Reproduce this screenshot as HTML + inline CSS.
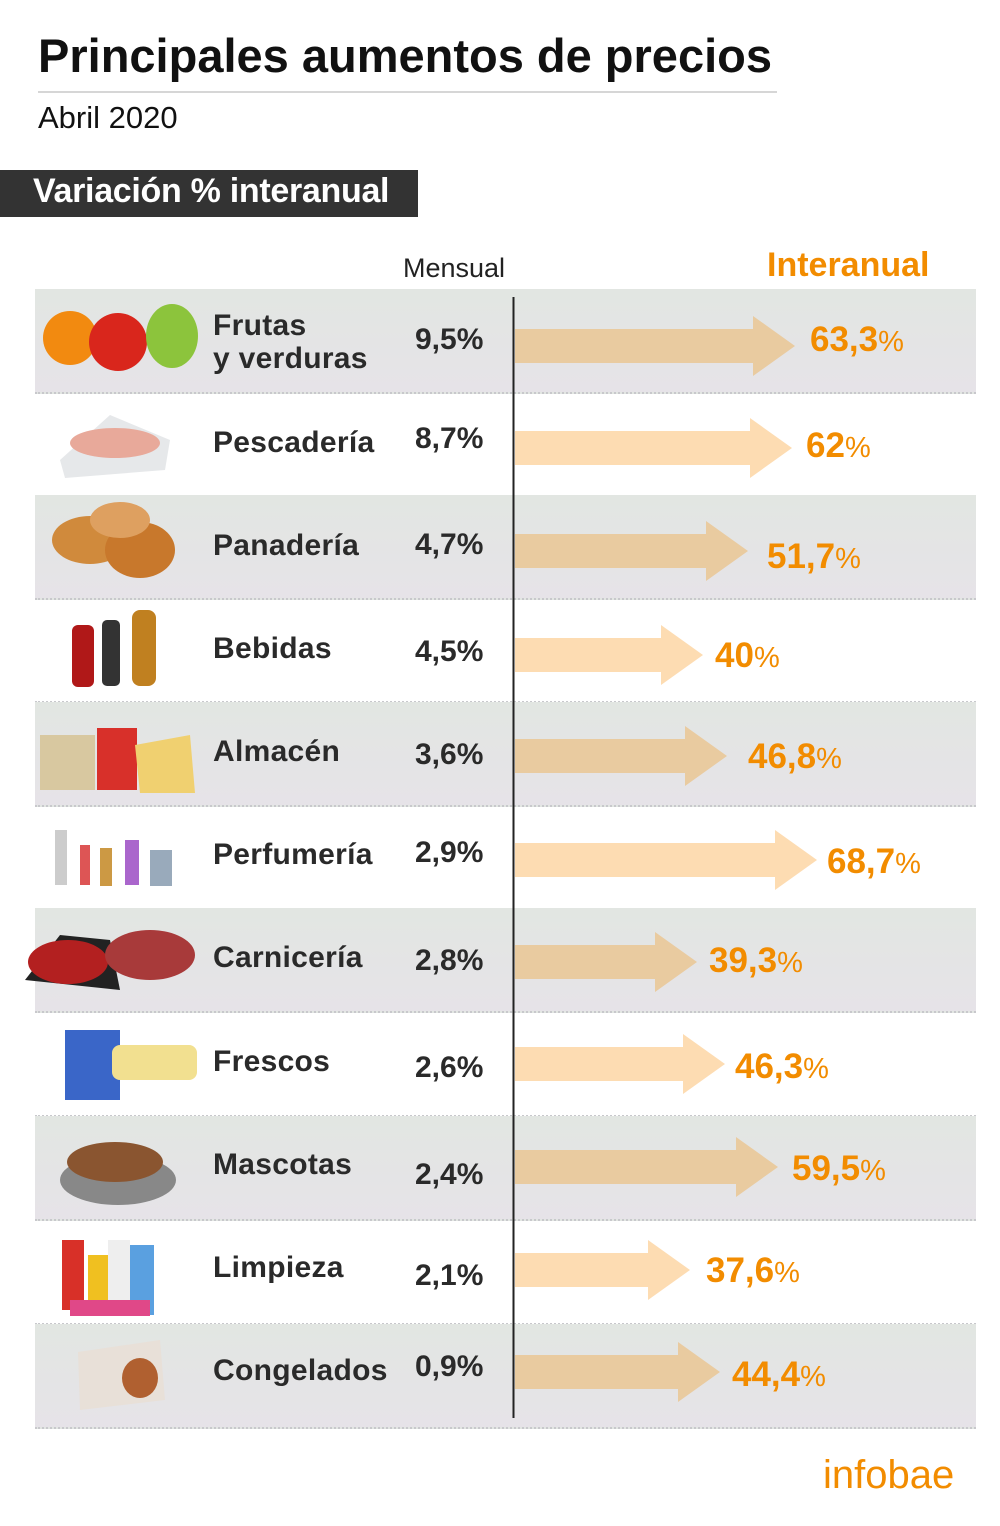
<!DOCTYPE html>
<html><head><meta charset="utf-8"><style>
body{margin:0;width:1000px;height:1526px;background:#fff;font-family:"Liberation Sans",sans-serif;position:relative;overflow:hidden}
.a{position:absolute;white-space:nowrap}
.row{position:absolute;left:35px;width:941px;height:103px;border-bottom:2px dotted #c8c8cc}
.sh{background:linear-gradient(180deg,#e2e6e2,#e6e3e8)}
.lab{position:absolute;left:213px;font-size:30px;color:#2a2a2a;font-weight:bold;letter-spacing:0.3px}
.men{position:absolute;left:415px;font-size:30px;color:#2a2a2a;font-weight:bold}
.val{position:absolute;font-size:35px;font-weight:bold;color:#f28c00}
.val span{font-weight:normal;font-size:29px}
</style></head><body>
<div class="a" style="left:38px;top:28px;font-size:47px;font-weight:bold;color:#111">Principales aumentos de precios</div>
<div class="a" style="left:38px;top:91px;width:739px;height:2px;background:#d6d6d6"></div>
<div class="a" style="left:38px;top:100px;font-size:31px;color:#111">Abril 2020</div>
<div class="a" style="left:0;top:170px;width:418px;height:47px;background:#333"></div>
<div class="a" style="left:33px;top:172px;font-size:34px;font-weight:bold;color:#fff;letter-spacing:-0.3px">Variación % interanual</div>
<div class="a" style="left:403px;top:253px;font-size:27px;color:#222">Mensual</div>
<div class="a" style="left:767px;top:246px;font-size:34px;font-weight:bold;color:#f28c00">Interanual</div>

<div class="row sh" style="top:289px"></div>
<div class="row" style="top:392px"></div>
<div class="row sh" style="top:495px"></div>
<div class="row" style="top:598px"></div>
<div class="row sh" style="top:702px"></div>
<div class="row" style="top:805px"></div>
<div class="row sh" style="top:908px"></div>
<div class="row" style="top:1012px"></div>
<div class="row sh" style="top:1116px"></div>
<div class="row" style="top:1220px"></div>
<div class="row sh" style="top:1324px"></div>

<svg class="a" style="left:0;top:0" width="1000" height="1526">
<g id="arrows">
<polygon points="515,329 753,329 753,316 795,346 753,376 753,363 515,363" fill="#e9cba0"/>
<polygon points="515,431 750,431 750,418 792,448 750,478 750,465 515,465" fill="#fddcb2"/>
<polygon points="515,534 706,534 706,521 748,551 706,581 706,568 515,568" fill="#e9cba0"/>
<polygon points="515,638 661,638 661,625 703,655 661,685 661,672 515,672" fill="#fddcb2"/>
<polygon points="515,739 685,739 685,726 727,756 685,786 685,773 515,773" fill="#e9cba0"/>
<polygon points="515,843 775,843 775,830 817,860 775,890 775,877 515,877" fill="#fddcb2"/>
<polygon points="515,945 655,945 655,932 697,962 655,992 655,979 515,979" fill="#e9cba0"/>
<polygon points="515,1047 683,1047 683,1034 725,1064 683,1094 683,1081 515,1081" fill="#fddcb2"/>
<polygon points="515,1150 736,1150 736,1137 778,1167 736,1197 736,1184 515,1184" fill="#e9cba0"/>
<polygon points="515,1253 648,1253 648,1240 690,1270 648,1300 648,1287 515,1287" fill="#fddcb2"/>
<polygon points="515,1355 678,1355 678,1342 720,1372 678,1402 678,1389 515,1389" fill="#e9cba0"/>
</g>
<line x1="513.5" y1="297" x2="513.5" y2="1418" stroke="#222" stroke-width="2"/>
<circle cx="70" cy="338" r="27" fill="#f28a10"/><circle cx="118" cy="342" r="29" fill="#d9261c"/><ellipse cx="172" cy="336" rx="26" ry="32" fill="#8cc43c"/>
<polygon points="60,460 110,415 170,440 165,470 65,478" fill="#e6e8ea"/><ellipse cx="115" cy="443" rx="45" ry="15" fill="#e8a99a"/>
<ellipse cx="90" cy="540" rx="38" ry="24" fill="#d08a3c"/><ellipse cx="140" cy="550" rx="35" ry="28" fill="#c8782c"/><ellipse cx="120" cy="520" rx="30" ry="18" fill="#dea060"/>
<rect x="72" y="625" width="22" height="62" rx="6" fill="#b01818"/><rect x="102" y="620" width="18" height="66" rx="5" fill="#333"/><rect x="132" y="610" width="24" height="76" rx="8" fill="#c08020"/>
<rect x="40" y="735" width="55" height="55" fill="#d8c8a0"/><rect x="97" y="728" width="40" height="62" fill="#d8302a"/><polygon points="135,745 190,735 195,793 140,793" fill="#f0d070"/>
<rect x="55" y="830" width="12" height="55" fill="#ccc"/><rect x="80" y="845" width="10" height="40" fill="#d55"/><rect x="100" y="848" width="12" height="38" fill="#c94"/><rect x="125" y="840" width="14" height="45" fill="#a6c"/><rect x="150" y="850" width="22" height="36" fill="#9ab"/>
<polygon points="25,980 60,935 110,940 120,990" fill="#222"/><ellipse cx="68" cy="962" rx="40" ry="22" fill="#b32020"/><ellipse cx="150" cy="955" rx="45" ry="25" fill="#a83a3a"/>
<rect x="65" y="1030" width="55" height="70" fill="#3a66c8"/><rect x="112" y="1045" width="85" height="35" rx="8" fill="#f2e090"/>
<ellipse cx="118" cy="1180" rx="58" ry="25" fill="#888"/><ellipse cx="115" cy="1162" rx="48" ry="20" fill="#8a5530"/>
<rect x="62" y="1240" width="22" height="70" fill="#d83028"/><rect x="88" y="1255" width="24" height="55" fill="#f0c020"/><rect x="108" y="1240" width="22" height="70" fill="#eee"/><rect x="130" y="1245" width="24" height="70" fill="#5aa0e0"/><rect x="70" y="1300" width="80" height="16" fill="#e04888"/>
<polygon points="78,1352 160,1340 165,1400 80,1410" fill="#e8e0d8"/><ellipse cx="140" cy="1378" rx="18" ry="20" fill="#b06030"/>
<text x="823" y="1488" font-family="Liberation Sans, sans-serif" font-size="40" fill="#f28c00">infobae</text>
</svg>

<div class="lab" style="top:309px;line-height:33px">Frutas<br>y verduras</div><div class="men" style="top:323px">9,5%</div><div class="val" style="left:810px;top:320px">63,3<span>%</span></div>
<div class="lab" style="top:426px">Pescadería</div><div class="men" style="top:422px">8,7%</div><div class="val" style="left:806px;top:426px">62<span>%</span></div>
<div class="lab" style="top:529px">Panadería</div><div class="men" style="top:528px">4,7%</div><div class="val" style="left:767px;top:537px">51,7<span>%</span></div>
<div class="lab" style="top:632px">Bebidas</div><div class="men" style="top:635px">4,5%</div><div class="val" style="left:715px;top:636px">40<span>%</span></div>
<div class="lab" style="top:735px">Almacén</div><div class="men" style="top:738px">3,6%</div><div class="val" style="left:748px;top:737px">46,8<span>%</span></div>
<div class="lab" style="top:838px">Perfumería</div><div class="men" style="top:836px">2,9%</div><div class="val" style="left:827px;top:842px">68,7<span>%</span></div>
<div class="lab" style="top:941px">Carnicería</div><div class="men" style="top:944px">2,8%</div><div class="val" style="left:709px;top:941px">39,3<span>%</span></div>
<div class="lab" style="top:1045px">Frescos</div><div class="men" style="top:1051px">2,6%</div><div class="val" style="left:735px;top:1047px">46,3<span>%</span></div>
<div class="lab" style="top:1148px">Mascotas</div><div class="men" style="top:1158px">2,4%</div><div class="val" style="left:792px;top:1149px">59,5<span>%</span></div>
<div class="lab" style="top:1251px">Limpieza</div><div class="men" style="top:1259px">2,1%</div><div class="val" style="left:706px;top:1251px">37,6<span>%</span></div>
<div class="lab" style="top:1354px">Congelados</div><div class="men" style="top:1350px">0,9%</div><div class="val" style="left:732px;top:1355px">44,4<span>%</span></div>
</body></html>
